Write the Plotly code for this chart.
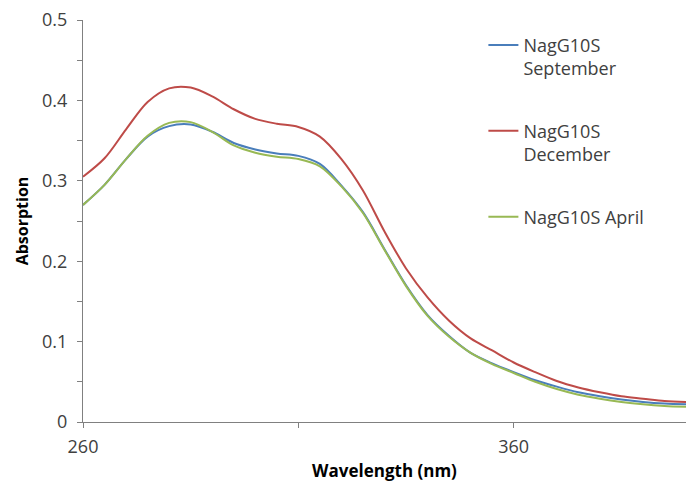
import plotly.graph_objects as go

wavelength = [260, 265, 270, 275, 280, 285, 290, 295, 300, 305, 310, 315, 320, 325, 330,
              335, 340, 345, 350, 355, 360, 365, 370, 375, 380, 385, 390, 395, 400]

september = [0.270, 0.295, 0.327, 0.355, 0.368, 0.370, 0.361, 0.347, 0.339, 0.334, 0.331,
             0.321, 0.294, 0.261, 0.215, 0.170, 0.133, 0.107, 0.086, 0.073, 0.062, 0.052,
             0.044, 0.037, 0.032, 0.028, 0.025, 0.023, 0.022]

december = [0.305, 0.328, 0.364, 0.398, 0.415, 0.416, 0.405, 0.389, 0.377, 0.371, 0.367,
            0.355, 0.327, 0.288, 0.237, 0.191, 0.155, 0.126, 0.104, 0.089, 0.074, 0.062,
            0.051, 0.043, 0.037, 0.032, 0.029, 0.026, 0.025]

april = [0.270, 0.295, 0.327, 0.356, 0.372, 0.373, 0.361, 0.344, 0.335, 0.330, 0.327,
         0.318, 0.293, 0.260, 0.214, 0.169, 0.132, 0.106, 0.086, 0.072, 0.061, 0.050,
         0.041, 0.034, 0.029, 0.025, 0.022, 0.020, 0.019]

series_names = ["NagG10S<br>September", "NagG10S<br>December", "NagG10S April"]
series_values = [september, december, april]
series_colors = ["#4A7EBB", "#BE4B48", "#98B954"]

x_tickvals = [260, 310, 360]
x_ticktext = ["260", "", "360"]

fig = go.Figure()
for i, (name, vals, col) in enumerate(zip(series_names, series_values, series_colors)):
    fig.add_trace(go.Scatter(
        x=wavelength, y=vals, name=name, mode="lines",
        line=dict(color=col, width=2, shape="spline", smoothing=0.9),
        legendgroup=f"g{i}",
    ))

font_family = "Open Sans, Liberation Sans, sans-serif"

fig.update_layout(
    width=686, height=486,
    margin=dict(l=83, r=0, t=20, b=64),
    paper_bgcolor="white", plot_bgcolor="white",
    font=dict(family=font_family, size=18, color="#404040"),
    showlegend=True,
    legend=dict(
        x=0.664, y=0.983, xanchor="left", yanchor="top",
        bgcolor="rgba(0,0,0,0)", font=dict(size=18, color="#404040"),
        tracegroupgap=36, valign="top", itemwidth=30,
    ),
    xaxis=dict(
        range=[260, 400], tickvals=x_tickvals, ticktext=x_ticktext, automargin=False,
        showgrid=False, zeroline=False, showline=True, linecolor="#808080", linewidth=1,
        ticks="outside", ticklen=5, tickcolor="#808080", ticklabelstandoff=3,
        title=dict(text="<b>Wavelength (nm)</b>", font=dict(size=17, color="black"), standoff=8),
    ),
    yaxis=dict(
        range=[0, 0.5], dtick=0.1, tick0=0, automargin=False,
        showgrid=False, zeroline=False, showline=True, linecolor="#808080", linewidth=1,
        ticks="outside", ticklen=5, tickcolor="#808080", ticklabelstandoff=6,
        minor=dict(dtick=0.05, ticks="outside", ticklen=5, tickcolor="#808080"),
        title=dict(text="<b>Absorption</b>", font=dict(size=16, color="black"), standoff=9),
    ),
)

fig.write_html("out.html", config={"displayModeBar": False})

with open("out.html", "r", encoding="utf-8") as f:
    html = f.read()
html = html.replace("<head>", "<head><style>html,body{margin:0;padding:0;overflow:hidden;}</style>", 1)
with open("out.html", "w", encoding="utf-8") as f:
    f.write(html)
